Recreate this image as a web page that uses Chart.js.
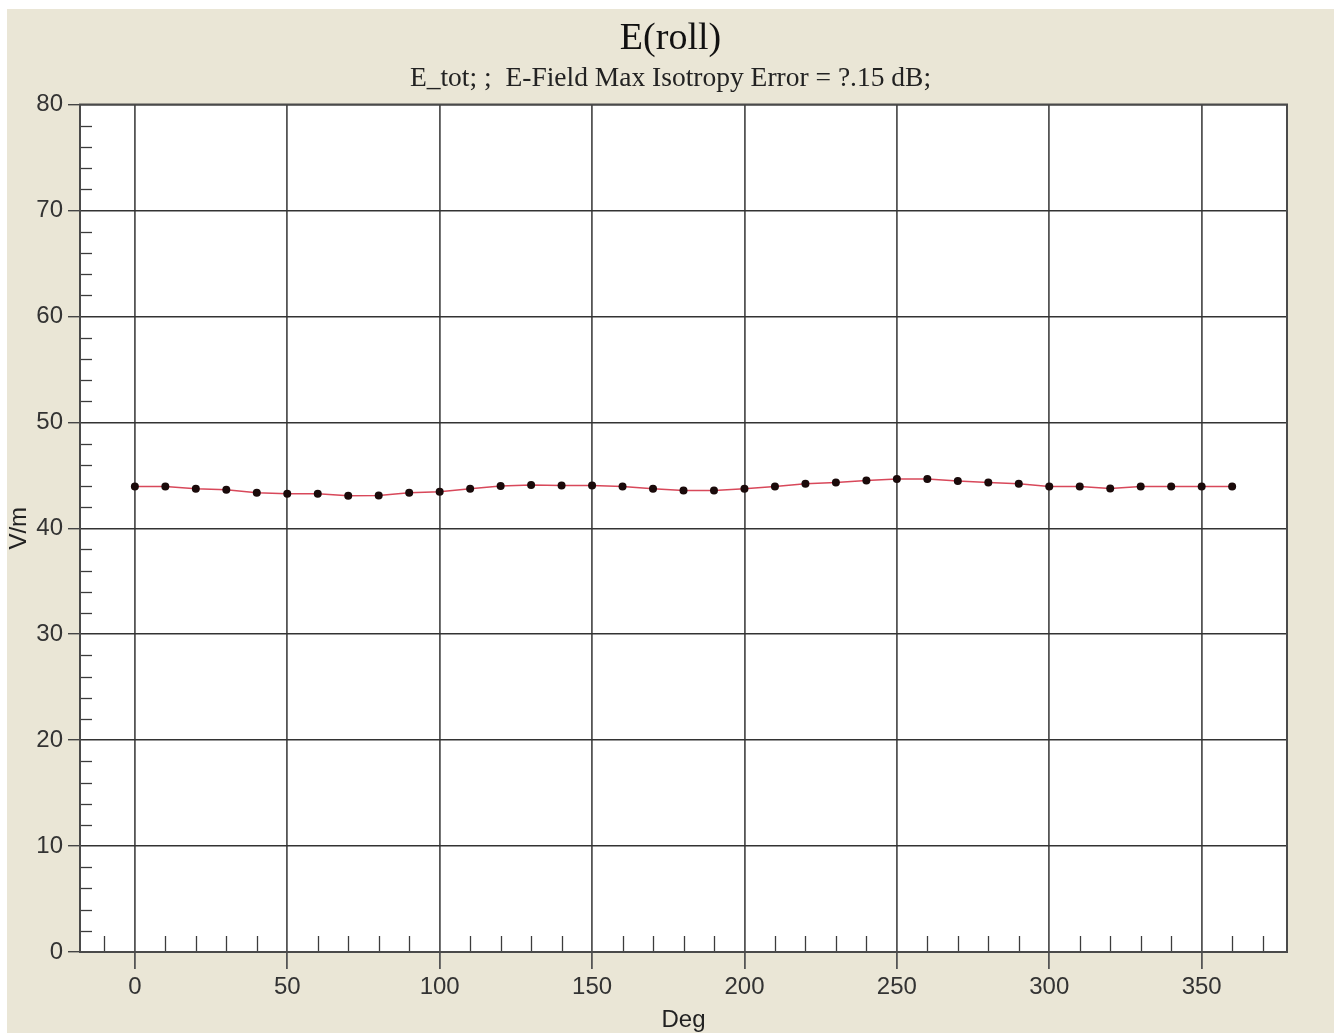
<!DOCTYPE html>
<html>
<head>
<meta charset="utf-8">
<script src="https://cdn.jsdelivr.net/npm/chart.js@4.4.1/dist/chart.umd.min.js"></script>
<style>
  html, body { margin: 0; padding: 0; background: #ffffff; }
  #wrap { position: absolute; left: 7px; top: 9px; width: 1327px; height: 1024px; background: #EAE6D6; }
</style>
</head>
<body>
<div id="wrap"><canvas id="c"></canvas></div>
<script>
// ---- data ----
const titleText = 'E(roll)';
const subtitleText = 'E_tot; ;  E-Field Max Isotropy Error = ?.15 dB;';
const xAxisTitle = 'Deg';
const yAxisTitle = 'V/m';
const angles = [0, 10, 20, 30, 40, 50, 60, 70, 80, 90, 100, 110, 120, 130, 140, 150, 160, 170, 180,
                190, 200, 210, 220, 230, 240, 250, 260, 270, 280, 290, 300, 310, 320, 330, 340, 350, 360];
const eTot = [43.95, 43.95, 43.73, 43.64, 43.35, 43.25, 43.25, 43.06, 43.10, 43.35, 43.45, 43.73, 43.99,
              44.08, 44.04, 44.04, 43.95, 43.73, 43.57, 43.57, 43.73, 43.95, 44.20, 44.33, 44.50, 44.65,
              44.65, 44.46, 44.33, 44.20, 43.95, 43.95, 43.76, 43.95, 43.95, 43.95, 43.95];
const xTicks = [0, 50, 100, 150, 200, 250, 300, 350];
const yTicks = [0, 10, 20, 30, 40, 50, 60, 70, 80];
const xRange = [-18, 378];
const yRange = [0, 80];
const xMinorStep = 10;
const yMinorStep = 2;

const points = angles.map((a, i) => ({ x: a, y: eTot[i] }));

const framePlugin = {
  id: 'frame',
  afterDatasetsDraw(chart) {
    const { ctx, chartArea: a, scales: { x, y } } = chart;
    ctx.save();
    ctx.strokeStyle = '#3c3c3c';
    ctx.lineWidth = 1.3;
    // minor ticks on y (inward from left axis)
    for (let v = yRange[0]; v <= yRange[1]; v += yMinorStep) {
      if (yTicks.includes(v)) continue;
      const py = Math.round(y.getPixelForValue(v)) + 0.5;
      ctx.beginPath(); ctx.moveTo(a.left, py); ctx.lineTo(a.left + 12, py); ctx.stroke();
    }
    // minor ticks on x (inward from bottom axis)
    const start = Math.ceil(xRange[0] / xMinorStep) * xMinorStep;
    for (let v = start; v <= xRange[1]; v += xMinorStep) {
      if (xTicks.includes(v)) continue;
      const px = Math.round(x.getPixelForValue(v)) + 0.5;
      ctx.beginPath(); ctx.moveTo(px, a.bottom); ctx.lineTo(px, a.bottom - 16); ctx.stroke();
    }
    // frame
    ctx.strokeStyle = '#4a4a4a';
    ctx.lineWidth = 2;
    ctx.strokeRect(a.left, a.top, a.right - a.left, a.bottom - a.top);
    ctx.restore();
  }
};

const plotBg = {
  id: 'plotBg',
  beforeDraw(chart) {
    const { ctx, chartArea: a } = chart;
    ctx.save();
    ctx.fillStyle = '#ffffff';
    ctx.fillRect(a.left, a.top, a.right - a.left, a.bottom - a.top);
    ctx.restore();
  }
};

new Chart(document.getElementById('c'), {
  type: 'scatter',
  data: {
    datasets: [{
      data: points,
      showLine: true,
      borderColor: '#d8485a',
      borderWidth: 1.5,
      tension: 0,
      pointRadius: 4,
      pointBackgroundColor: '#1a0a0a',
      pointBorderColor: '#1a0a0a',
      pointBorderWidth: 0
    }]
  },
  options: {
    responsive: true,
    maintainAspectRatio: false,
    animation: false,
    devicePixelRatio: 1,
    layout: { padding: 0 },
    plugins: {
      legend: { display: false },
      tooltip: { enabled: false },
      title: {
        display: true,
        text: titleText,
        color: '#111111',
        font: { family: '"Liberation Serif", "Times New Roman", serif', size: 38, weight: 'normal', lineHeight: 1 },
        padding: { top: 11, bottom: 0 }
      },
      subtitle: {
        display: true,
        text: subtitleText,
        color: '#222222',
        font: { family: '"Liberation Serif", "Times New Roman", serif', size: 27.5, weight: 'normal', lineHeight: 1 },
        padding: { top: 7, bottom: 12 }
      }
    },
    scales: {
      x: {
        type: 'linear',
        min: xRange[0],
        max: xRange[1],
        afterBuildTicks: s => { s.ticks = xTicks.map(v => ({ value: v })); },
        afterFit: s => { s.height = 81; },
        ticks: {
          color: '#333333',
          padding: 6,
          maxRotation: 0,
          font: { family: '"Liberation Sans", Arial, sans-serif', size: 24, lineHeight: 1 }
        },
        grid: { color: '#555555', lineWidth: 1.8, tickLength: 17, tickColor: '#555555' },
        border: { display: true, color: '#4a4a4a', width: 2 },
        title: {
          display: true,
          text: xAxisTitle,
          color: '#222222',
          font: { family: '"Liberation Sans", Arial, sans-serif', size: 24, lineHeight: 1 },
          padding: { top: 0, bottom: 1 }
        }
      },
      y: {
        type: 'linear',
        min: yRange[0],
        max: yRange[1],
        afterBuildTicks: s => { s.ticks = yTicks.map(v => ({ value: v })); },
        afterFit: s => { s.width = 73; },
        ticks: {
          color: '#333333',
          padding: 5,
          font: { family: '"Liberation Sans", Arial, sans-serif', size: 24, lineHeight: 1 }
        },
        grid: { color: '#333333', lineWidth: 1.4, tickLength: 12, tickColor: '#444444' },
        border: { display: true, color: '#4a4a4a', width: 2 },
        title: {
          display: true,
          text: yAxisTitle,
          color: '#222222',
          font: { family: '"Liberation Sans", Arial, sans-serif', size: 24, lineHeight: 1 },
          padding: { top: 0, bottom: 0 }
        }
      },
      yRight: {
        type: 'linear',
        position: 'right',
        min: yRange[0],
        max: yRange[1],
        afterFit: s => { s.width = 47; },
        ticks: { display: false },
        grid: { display: false, drawTicks: false },
        border: { display: false }
      }
    }
  },
  plugins: [plotBg, framePlugin]
});
</script>
</body>
</html>
